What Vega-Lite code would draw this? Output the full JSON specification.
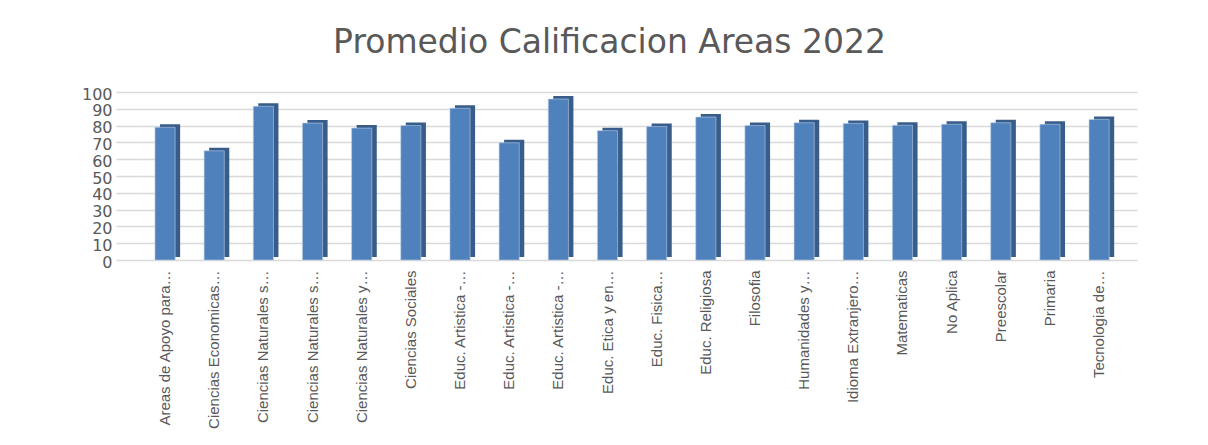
{
  "$schema": "https://vega.github.io/schema/vega-lite/v6.json",
  "autosize": {"type": "none"},
  "width": 997,
  "height": 168,
  "padding": {"left": 140, "top": 92, "right": 71, "bottom": 185},
  "background": "white",
  "title": {
    "text": "Promedio Calificacion Areas 2022",
    "font": "DejaVu Sans",
    "fontSize": 33,
    "fontWeight": "normal",
    "color": "#595959",
    "anchor": "middle",
    "dx": -29,
    "offset": 26
  },
  "data": {
    "values": [
      {"area": "Areas de Apoyo para…", "promedio": 79.0},
      {"area": "Ciencias Economicas…", "promedio": 65.0},
      {"area": "Ciencias Naturales s…", "promedio": 91.5},
      {"area": "Ciencias Naturales s…\u200b", "promedio": 81.5},
      {"area": "Ciencias Naturales y…", "promedio": 78.5},
      {"area": "Ciencias Sociales", "promedio": 80.0},
      {"area": "Educ. Artistica -…", "promedio": 90.3},
      {"area": "Educ. Artistica -…\u200b", "promedio": 69.8},
      {"area": "Educ. Artistica -…\u200b\u200b", "promedio": 95.8},
      {"area": "Educ. Etica y en…", "promedio": 77.0},
      {"area": "Educ. Fisica…", "promedio": 79.4},
      {"area": "Educ. Religiosa", "promedio": 85.1},
      {"area": "Filosofia", "promedio": 80.0},
      {"area": "Humanidades y…", "promedio": 81.7},
      {"area": "Idioma Extranjero…", "promedio": 81.3},
      {"area": "Matematicas", "promedio": 80.2},
      {"area": "No Aplica", "promedio": 80.8},
      {"area": "Preescolar", "promedio": 81.7},
      {"area": "Primaria", "promedio": 80.8},
      {"area": "Tecnologia de…", "promedio": 83.7}
    ]
  },
  "encoding": {
    "x": {
      "field": "area",
      "type": "nominal",
      "sort": null,
      "scale": {"paddingInner": 0.59, "paddingOuter": 0.435, "align": 0.35},
      "axis": {
        "title": null,
        "labelAngle": -90,
        "labelFont": "Liberation Sans",
        "labelFontSize": 15,
        "labelColor": "#595959",
        "labelPadding": 10,
        "labelLimit": 300,
        "ticks": false,
        "domain": false
      }
    },
    "y": {
      "field": "promedio",
      "type": "quantitative",
      "scale": {"domain": [0, 100]},
      "axis": {
        "title": null,
        "values": [0, 10, 20, 30, 40, 50, 60, 70, 80, 90, 100],
        "labelOverlap": false,
        "labelFont": "DejaVu Sans",
        "labelFontSize": 16,
        "labelColor": "#595959",
        "labelPadding": 4,
        "labelOffset": 2,
        "tickSize": 24,
        "tickColor": "#D9D9D9",
        "tickWidth": 1.5,
        "gridColor": "#D9D9D9",
        "gridWidth": 1.5,
        "domain": false
      }
    }
  },
  "layer": [
    {
      "mark": {"type": "bar", "color": "#385D8A", "xOffset": 5, "yOffset": -3}
    },
    {
      "mark": {"type": "bar", "color": "#4F81BD", "stroke": "#B9CDE5", "strokeWidth": 0.6}
    }
  ],
  "config": {"view": {"stroke": null}}
}
